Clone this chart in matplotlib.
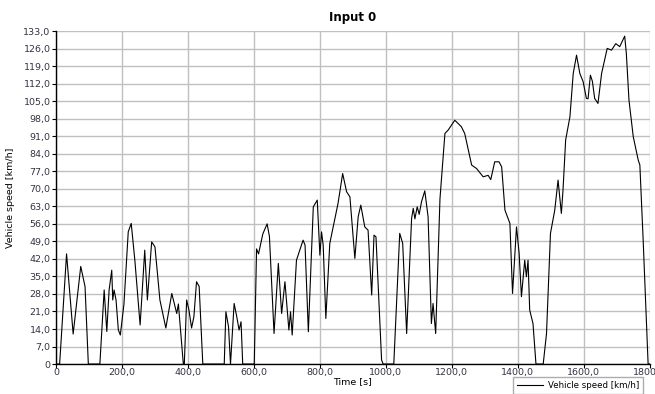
import numpy as np
import matplotlib.pyplot as plt
from matplotlib.ticker import FuncFormatter, MultipleLocator

# time [s] and vehicle speed [km/h]
time_s = [0, 7, 11, 32, 52, 75, 88, 98, 133, 146, 154, 161, 169, 172, 176, 182,
          189, 195, 206, 219, 228, 239, 255, 269, 277, 290, 300, 315, 333, 351,
          366, 371, 386, 389, 396, 403, 411, 418, 426, 434, 445, 510, 515, 523,
          529, 540, 548, 555, 561, 566, 601, 608, 614, 627, 640, 647, 661, 674,
          684, 694, 706, 711, 716, 729, 749, 755, 765, 780, 792, 800, 805, 810,
          818, 830, 855, 869, 881, 891, 906, 916, 924, 936, 946, 957, 964, 970,
          987, 992, 1024, 1042, 1051, 1063, 1078, 1083, 1088, 1095, 1101, 1108,
          1118, 1128, 1138, 1143, 1151, 1164, 1179, 1189, 1209, 1229, 1239,
          1260, 1275, 1295, 1310, 1318, 1330, 1343, 1351, 1361, 1376, 1384,
          1396, 1404, 1411, 1421, 1426, 1431, 1436, 1446, 1455, 1477, 1487,
          1499, 1512, 1522, 1532, 1537, 1545, 1558, 1568, 1578, 1588, 1598,
          1608, 1613, 1620, 1626, 1633, 1643, 1654, 1671, 1684, 1697, 1709,
          1724, 1729, 1737, 1750, 1765, 1770, 1780, 1795, 1800]
speed_kmh = [0, 0, 0, 44, 12, 39, 31, 0, 0, 29.6, 13, 29.6, 37.5, 25.6, 29.6, 25.6,
             13.6, 11.6, 24, 52.8, 56.2, 41.5, 15.6, 45.5, 25.6, 48.8, 46.8, 25.6,
             14.4, 28.2, 20.2, 24, 0, 0, 25.6, 21.6, 14.4, 18.9, 32.9, 31, 0, 0,
             20.9, 14.9, 0, 24.2, 18.9, 13.6, 16.9, 0, 0, 46, 44, 52, 56, 51,
             12.2, 40.2, 20.2, 32.9, 13.6, 20.9, 11.6, 41.5, 49.5, 47.5, 12.9,
             62.8, 65.5, 43.5, 52.8, 47.5, 18.2, 48.2, 64.2, 76.1, 68.8, 66.8,
             42.2, 58.8, 63.5, 54.8, 53.5, 27.6, 51.5, 50.8, 1.6, 0, 0, 52.2,
             48.2, 12.2, 58.2, 62.2, 58, 62.8, 59.8, 64.8, 69.2, 58.8, 16.2, 24.2,
             12.2, 66, 92.1, 93.5, 97.4, 94.8, 92.1, 79.5, 78.1, 74.8, 75.4, 73.7,
             80.8, 80.8, 78.8, 61.5, 56.2, 28.2, 54.8, 44.2, 26.9, 41.5, 34.9,
             41.5, 21.6, 16.2, 0, 0, 12.2, 52.2, 61.5, 73.5, 60.2, 69.5, 89.5,
             98.8, 116.1, 123.4, 116.1, 112.8, 106.1, 106, 115.4, 113, 106.1,
             104.1, 116.1, 126.1, 125.4, 128, 126.8, 131, 124.1, 105.4, 90.8,
             81.5, 79.5, 49.5, 0, 0]

series_name = "Vehicle speed [km/h]"
title = "Input 0"

fig = plt.figure(figsize=(6.55, 3.94), dpi=100)
ax = fig.add_axes([0.0855, 0.076, 0.9065, 0.845])

ax.plot(time_s, speed_kmh, color="black", lw=0.8, label=series_name)

ax.set_xlim(0, 1800)
ax.set_ylim(0, 133)
ax.xaxis.set_major_locator(MultipleLocator(200))
ax.yaxis.set_major_locator(MultipleLocator(7))
fmt = FuncFormatter(lambda v, p: ("%.1f" % v).replace(".", ",") if v != 0 else "0")
ax.xaxis.set_major_formatter(fmt)
ax.yaxis.set_major_formatter(fmt)
ax.tick_params(labelsize=6.8, colors="black", length=3, width=0.8,
               labelcolor="#333344", pad=1)
ax.tick_params(axis="x", pad=0)
ax.grid(True, color="#c0c0c0", lw=1)
ax.set_axisbelow(True)
for s in ["top", "right"]:
    ax.spines[s].set_visible(False)
ax.spines["left"].set_linewidth(1)
ax.spines["bottom"].set_linewidth(1)

ax.set_title(title, fontsize=8.5, fontweight="bold", pad=7)
ax.set_xlabel("Time [s]", fontsize=6.8, labelpad=0)
ax.set_ylabel("Vehicle speed [km/h]", fontsize=6.8, labelpad=6)

fig.legend(loc="upper left", bbox_to_anchor=(513 / 655, 1 - 377 / 394),
           fontsize=6.2, frameon=True, fancybox=False, edgecolor="#999999",
           handlelength=3.0, handletextpad=0.6, borderpad=0.45,
           borderaxespad=0)

fig.savefig("out.png", dpi=100)
